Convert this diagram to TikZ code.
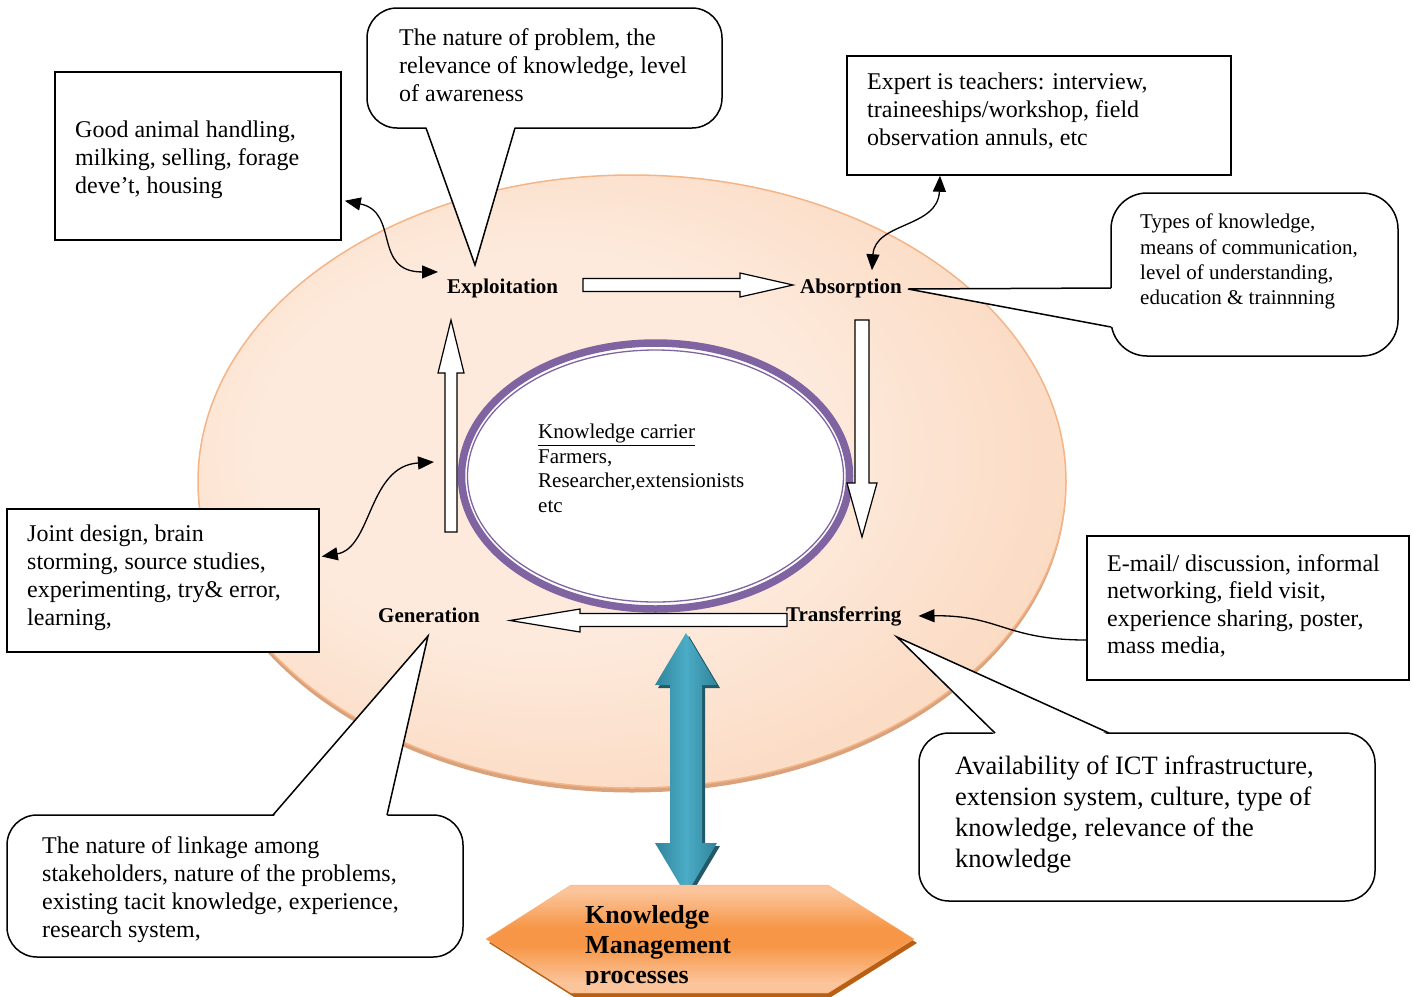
\documentclass[tikz,border=0pt]{standalone}
\usepackage{fontspec}
\setmainfont{Liberation Serif}
\usetikzlibrary{arrows.meta}
\usetikzlibrary{shapes.geometric}
\usetikzlibrary{positioning}

\definecolor{peachlight}{HTML}{FDEADC}
\definecolor{peachdark}{HTML}{F8C29B}
\definecolor{peachrim}{HTML}{F5B486}
\definecolor{peachshadow}{HTML}{D9A27C}
\definecolor{carrierpurple}{HTML}{8064A2}
\definecolor{tealdark}{HTML}{31849B}
\definecolor{teallight}{HTML}{4BACC6}
\definecolor{tealshadow}{HTML}{215968}
\definecolor{kmorange}{HTML}{F79646}
\definecolor{kmlight}{HTML}{FBC49A}
\definecolor{kmrim}{HTML}{F9B27A}
\definecolor{kmshadow}{HTML}{B95F14}
\pgfdeclareradialshading{peachglow}{\pgfpoint{-8bp}{4bp}}{color(0bp)=(peachlight); color(16bp)=(peachlight); color(50bp)=(peachdark)}
\pgfdeclareverticalshading{kmband}{100bp}{color(0bp)=(kmlight); color(30bp)=(kmlight); color(47bp)=(kmorange); color(55bp)=(kmorange); color(72bp)=(kmlight); color(100bp)=(kmlight)}

\begin{document}
\begin{tikzpicture}[x=1pt,y=-1pt,>={Triangle[length=16pt,width=13pt]},
	txt/.style={anchor=north west,align=left,inner sep=0pt,font=\fontsize{24}{28}\selectfont},
	frame/.style={draw,line width=1.5pt,fill=white,inner sep=0pt},
	bubble/.style={frame,rounded corners=30pt},
	stage/.style={anchor=base west,inner sep=0pt,font=\fontsize{21}{25}\selectfont\bfseries},
	blockarrow/.style={draw,fill=white,line width=1.2pt,line join=miter},
	link/.style={line width=1.3pt}]
	\useasboundingbox (0,0) rectangle (1413,996);

	\fill[peachshadow] (632,486) ellipse [x radius=434, y radius=306.5];
	\node[ellipse,shade,shading=peachglow,draw=peachrim,line width=1.5pt,minimum width=868,minimum height=613,inner sep=0pt] (ring) at (632,481.5) {};
	\node[ellipse,draw=carrierpurple,line width=7.5pt,fill=white,minimum width=388,minimum height=266,inner sep=0pt] (carrier) at (655.5,476) {};
	\draw[carrierpurple,line width=1.3pt] (carrier.center) ellipse [x radius=188, y radius=126];
	\node[txt,font=\fontsize{21}{24.5}\selectfont] (carriertext) at (538,424) {\underline{Knowledge carrier}\\Farmers,\\Researcher,extensionists\\etc};

	\draw[blockarrow] (583,278.5) -- (740,278.5) -- (740,273) -- (793,285) -- (740,297) -- (740,291.5) -- (583,291.5) -- cycle;
	\draw[blockarrow] (855,320) -- (869,320) -- (869,483) -- (877,483) -- (862,537) -- (847,483) -- (855,483) -- cycle;
	\draw[blockarrow] (787,613.5) -- (580,613.5) -- (580,609) -- (510,620.5) -- (580,632) -- (580,626.5) -- (787,626.5) -- cycle;
	\draw[blockarrow] (445,532) -- (445,373) -- (438,373) -- (451,320) -- (464,373) -- (457,373) -- (457,532) -- cycle;

	\node[stage] (expl) at (447,293) {Exploitation};
	\node[stage] (absn) at (800,293) {Absorption};
	\node[stage] (gen) at (378,622) {Generation};
	\node[stage] (trans) at (786,621) {Transferring};

	\fill[tealshadow] (689,636) -- (720,688) -- (705,688) -- (705,846) -- (720,846) -- (689,898) -- (658,846) -- (673,846) -- (673,688) -- (658,688) -- cycle;
	\shade[left color=tealdark,right color=tealdark,middle color=teallight] (686,633) -- (717,685) -- (702,685) -- (702,843) -- (717,843) -- (686,895) -- (655,843) -- (670,843) -- (670,685) -- (655,685) -- cycle;

	\fill[kmshadow] (489,943) -- (574,889) -- (831,889) -- (917,943) -- (831,997) -- (574,997) -- cycle;
	\shade[shading=kmband,draw=kmrim] (486,939) -- (571,885) -- (828,885) -- (914,939) -- (828,993) -- (571,993) -- cycle;
	\begin{scope}
		\clip (480,880) rectangle (920,984);
		\node[txt,font=\fontsize{26}{30}\selectfont\bfseries] (kmp) at (585,905) {Knowledge\\Management\\processes};
	\end{scope}

	\node[frame,minimum width=286,minimum height=168] (handling) at (198,156) {};
	\node[txt] (handlingtext) at (75,121) {Good animal handling,\\milking, selling, forage\\deve’t, housing};

	\node[bubble,minimum width=355,minimum height=120] (problem) at (544.5,68) {};
	\coordinate (problemtip) at (475,265);
	\fill[white] (426,126) -- (problemtip) -- (515,126) -- cycle;
	\draw[line width=1.5pt] (426,128) -- (problemtip) -- (515,128);
	\node[txt] (problemtext) at (399,28) {The nature of problem, the\\relevance of knowledge, level\\of awareness};

	\node[frame,minimum width=384,minimum height=119] (expert) at (1039,115.5) {};
	\node[txt] (experttext) at (867,73) {Expert is teachers: interview,\\traineeships/workshop, field\\observation annuls, etc};

	\node[bubble,minimum width=287,minimum height=163,rounded corners=36pt] (types) at (1254.5,274.5) {};
	\coordinate (typestip) at (908,289);
	\fill[white] (1113,288) -- (typestip) -- (1113,327) -- cycle;
	\draw[line width=1.5pt] (1111,288) -- (typestip) -- (1111,327);
	\node[txt,font=\fontsize{21}{25.3}\selectfont] (typestext) at (1140,214) {Types of knowledge,\\means of communication,\\level of understanding,\\education \& trainnning};

	\node[frame,minimum width=312,minimum height=143] (joint) at (163,580.5) {};
	\node[txt] (jointtext) at (27,525) {Joint design, brain\\storming, source studies,\\experimenting, try\& error,\\learning,};

	\node[bubble,minimum width=456,minimum height=142] (linkage) at (235,886) {};
	\coordinate (linkagetip) at (428,636);
	\fill[white] (273,817) -- (linkagetip) -- (387,817) -- cycle;
	\draw[line width=1.5pt] (273,815) -- (linkagetip) -- (387,815);
	\node[txt] (linkagetext) at (42,836) {The nature of linkage among\\stakeholders, nature of the problems,\\existing tacit knowledge, experience,\\research system,};

	\node[frame,minimum width=322,minimum height=144] (email) at (1248,608) {};
	\node[txt,font=\fontsize{24}{27.5}\selectfont] (emailtext) at (1107,554) {E-mail/ discussion, informal\\networking, field visit,\\experience sharing, poster,\\mass media,};

	\node[bubble,minimum width=456,minimum height=168] (ict) at (1147,817) {};
	\coordinate (icttip) at (897,637);
	\fill[white] (995,735) -- (icttip) -- (1109,735) -- cycle;
	\draw[line width=1.5pt] (995,733) -- (icttip) -- (1109,733);
	\node[txt,font=\fontsize{26.5}{31}\selectfont] (icttext) at (955,756) {Availability of ICT infrastructure,\\extension system, culture, type of\\knowledge, relevance of the\\knowledge};

	\coordinate (a4in) at (434,462);
	\draw[link,<->] ([shift={(3,-40)}]handling.south east) .. controls (400,212) and (372,272) .. ([shift={(-9,-16)}]expl.west);
	\draw[link,<->] ([shift={(21,-8)}]absn.north) .. controls (875,222) and (938,228) .. ([shift={(-99,0)}]expert.south);
	\draw[link,<->] ([shift={(2,-24)}]joint.east) .. controls (372,548) and (368,466) .. (a4in);
	\draw[link,<-] ([shift={(17,0)}]trans.east) .. controls (1000,615) and (1005,640) .. ([shift={(0,32)}]email.west);
\end{tikzpicture}
\end{document}
